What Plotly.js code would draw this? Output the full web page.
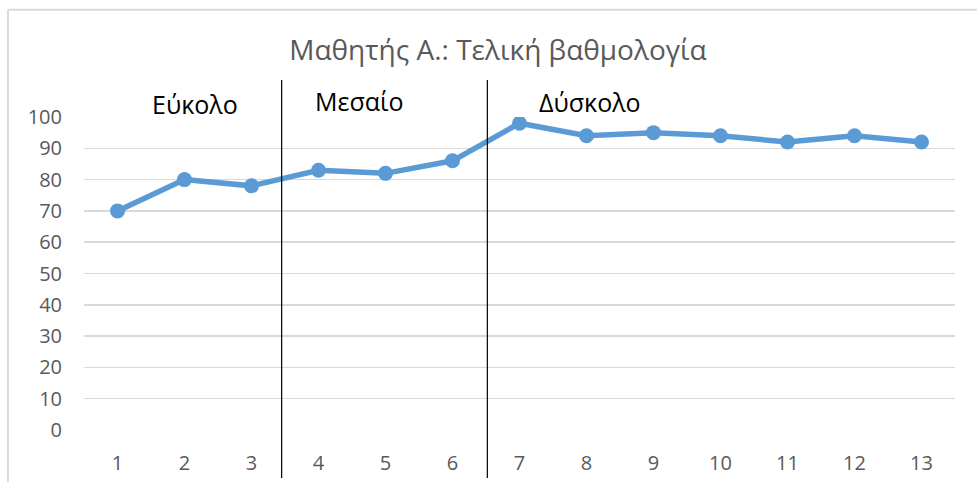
<!DOCTYPE html>
<html>
<head>
<meta charset="utf-8">
<script src="https://cdn.plot.ly/plotly-3.0.1.min.js"></script>
<style>html,body{margin:0;padding:0;background:#fff;}#chart{width:977px;height:482px;}</style>
</head>
<body>
<div id="chart"></div>
<script>
const categories = [1, 2, 3, 4, 5, 6, 7, 8, 9, 10, 11, 12, 13];
const scores = [70, 80, 78, 83, 82, 86, 98, 94, 95, 94, 92, 94, 92];
const yTicks = [0, 10, 20, 30, 40, 50, 60, 70, 80, 90, 100];
const sectionLabels = ["Εύκολο", "Μεσαίο", "Δύσκολο"];
const chartTitle = "Μαθητής Α.: Τελική βαθμολογία";

const FONT = "Open Sans, Liberation Sans, sans-serif";

const trace = {
  x: categories,
  y: scores,
  type: "scatter",
  mode: "lines+markers",
  line: {color: "#5b9bd5", width: 5.5},
  marker: {color: "#5b9bd5", size: 15},
  hoverinfo: "x+y",
  showlegend: false
};

const layout = {
  width: 977,
  height: 482,
  margin: {l: 84, r: 22, t: 117, b: 52},
  paper_bgcolor: "#ffffff",
  plot_bgcolor: "#ffffff",
  font: {family: FONT, color: "#595959"},
  title: {
    text: chartTitle,
    font: {family: FONT, size: 28, color: "#595959"},
    x: 498 / 977, xanchor: "center",
    y: 1 - 50 / 482, yanchor: "middle"
  },
  xaxis: {
    range: [0.5, 13.5],
    tickvals: categories,
    ticktext: categories.map(String),
    showgrid: false,
    zeroline: false,
    showline: false,
    ticks: "",
    ticklen: 0,
    ticklabelstandoff: 19,
    tickfont: {family: FONT, size: 20, color: "#595959"},
    fixedrange: true
  },
  yaxis: {
    range: [0, 100],
    tickvals: yTicks,
    showgrid: true,
    gridcolor: "#d9d9d9",
    gridwidth: 1.5,
    zeroline: false,
    showline: false,
    ticks: "",
    ticklabelstandoff: 21,
    tickfont: {family: FONT, size: 20, color: "#595959"},
    fixedrange: true
  },
  shapes: [
    {type: "line", xref: "x", yref: "paper", x0: 3.45, x1: 3.45, y0: 1.118, y1: -0.153,
     line: {color: "#000000", width: 1.2}},
    {type: "line", xref: "x", yref: "paper", x0: 6.52, x1: 6.52, y0: 1.118, y1: -0.153,
     line: {color: "#000000", width: 1.2}},
    {type: "line", xref: "paper", yref: "paper", x0: -0.0873, x1: 1.03, y0: 1.343, y1: 1.343,
     line: {color: "#d9d9d9", width: 2}},
    {type: "line", xref: "paper", yref: "paper", x0: -0.0873, x1: -0.0873, y0: 1.343, y1: -0.2,
     line: {color: "#d9d9d9", width: 2}}
  ],
  annotations: [
    {text: sectionLabels[0], xref: "x", yref: "paper", x: 2.15, y: (430 - 104) / 313,
     showarrow: false, xanchor: "center", yanchor: "middle",
     font: {family: FONT, size: 25, color: "#000000"}},
    {text: sectionLabels[1], xref: "x", yref: "paper", x: 4.61, y: (430 - 101) / 313,
     showarrow: false, xanchor: "center", yanchor: "middle",
     font: {family: FONT, size: 25, color: "#000000"}},
    {text: sectionLabels[2], xref: "x", yref: "paper", x: 8.05, y: (430 - 102) / 313,
     showarrow: false, xanchor: "center", yanchor: "middle",
     font: {family: FONT, size: 25, color: "#000000"}}
  ]
};

Plotly.newPlot("chart", [trace], layout, {displayModeBar: false, staticPlot: true});
</script>
</body>
</html>
